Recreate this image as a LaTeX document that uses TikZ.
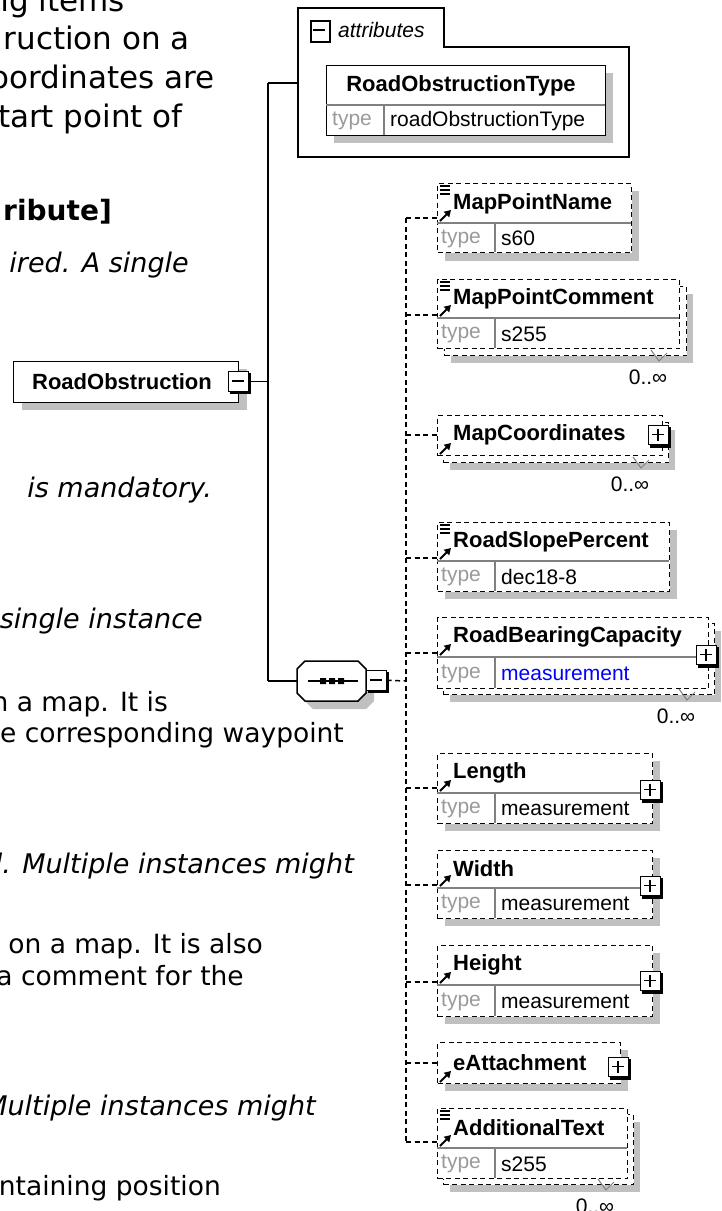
\documentclass[tikz,border=0pt]{standalone}
\usepackage{fontspec}
\usetikzlibrary{arrows.meta}
\newfontfamily\dfont{Liberation Sans}
\newfontfamily\bgfont[ItalicFont={DejaVu Sans Oblique},BoldFont={DejaVu Sans Bold}]{DejaVu Sans}
\definecolor{shgrey}{HTML}{C0C0C0}
\definecolor{tgrey}{HTML}{9A9A9A}
\definecolor{hgrey}{HTML}{808080}
\definecolor{mblue}{HTML}{0000FF}
\tikzset{
  solidln/.style={line width=1.5pt, black},
  dashln/.style={line width=1.5pt, black, dash pattern=on 5pt off 3.5pt},
  optbox/.style={draw, fill=white, line width=1.4pt, dash pattern=on 5pt off 3.5pt, inner sep=0pt, anchor=north west},
  reqbox/.style={draw, fill=white, line width=1.4pt, inner sep=0pt, anchor=north west},
  hdrline/.style={line width=1.2pt, hgrey},
  nm/.style={font=\dfont\bfseries\fontsize{22}{24}\selectfont, anchor=west, inner sep=0pt},
  tlab/.style={font=\dfont\fontsize{21}{23}\selectfont, text=tgrey, anchor=west, inner sep=0pt},
  tval/.style={font=\dfont\fontsize{21}{23}\selectfont, anchor=west, inner sep=0pt},
  occlab/.style={font=\dfont\fontsize{21}{23}\selectfont, inner sep=0pt},
  bgtop/.style={font=\bgfont\fontsize{31}{36}\selectfont, anchor=base east, inner sep=0pt},
  bgbold/.style={font=\bgfont\bfseries\fontsize{28}{32}\selectfont, anchor=base east, inner sep=0pt},
  bgit/.style={font=\bgfont\itshape\fontsize{27}{31}\selectfont, anchor=base east, inner sep=0pt},
  bgreg/.style={font=\bgfont\fontsize{26.5}{30}\selectfont, anchor=base east, inner sep=0pt},
}
% icons
\newcommand\plusic[3]{%
  \fill[black] (#2+2,#3+2) rectangle (#2+23,#3+23);
  \node[draw, line width=1.1pt, fill=white, inner sep=0pt, minimum width=19.5pt, minimum height=19pt, anchor=north west] (#1) at (#2,#3) {};
  \draw[line width=1.6pt] (#2+3.5,#3+9.5) -- (#2+16,#3+9.5) (#2+9.75,#3+3.5) -- (#2+9.75,#3+15.5);
}
\newcommand\minusic[3]{%
  \fill[black] (#2+2,#3+2) rectangle (#2+23,#3+23);
  \node[draw, line width=1.1pt, fill=white, inner sep=0pt, minimum width=19.5pt, minimum height=19.5pt, anchor=north west] (#1) at (#2,#3) {};
  \draw[line width=1.6pt] (#2+3.5,#3+9.75) -- (#2+16,#3+9.75);
}
\newcommand\lsticon[1]{\draw[line width=1.2pt] (440,#1+3) -- (450,#1+3) (440,#1+7) -- (450,#1+7) (440,#1+11) -- (450,#1+11);}
\newcommand\arricon[1]{\draw[line width=2pt, -{Triangle[length=6.5pt,width=7.5pt]}] (440,#1-2) -- (451,#1-13);}
\newcommand\typedrow[6]{%
  \draw[hdrline] (437,#3) -- (#2,#3);
  \draw[hdrline] (495,#3) -- (495,#4);
  \node[tlab] (#1-tl) at (441,{(#3+#4)/2+1}) {type};
  \node[tval, text=#6] (#1-tv) at (501,{(#3+#4)/2+1}) {#5};
}
\newcommand\occ[3]{%
  \draw[line width=1pt, hgrey] (#2-35,#3-5) -- (#2-27,#3+6) -- (#2-19,#3-2);
  \node[occlab] (#1) at (#2-38,#3+22) {0..∞};
}
\begin{document}
\begin{tikzpicture}[x=1pt,y=-1pt]
\useasboundingbox (0,0) rectangle (721,1211);
\clip (0,0) rectangle (721,1211);
\fill[white] (0,0) rectangle (721,1211);

% ---------- background text (cut off at the left)
\node[bgtop] (t1) at (125,11) {ng items};
\node[bgtop] (t2) at (190,49) {ruction on a};
\node[bgtop] (t3) at (215,88) {oordinates are};
\node[bgtop] (t4) at (183,127) {tart point of};
\node[bgbold] (t5) at (112,220) {ribute]};
\node[bgit] (t6) at (189,272) {ired. A single};
\node[bgit] (t7) at (212,497) {is mandatory.};
\node[bgit] (t8) at (203,628) {single instance};
\node[bgreg] (t9) at (168,711) {n a map. It is};
\node[bgreg] (t10) at (344,742) {e corresponding waypoint};
\node[bgit] (t11) at (354,873) {l. Multiple instances might};
\node[bgreg] (t12) at (263,953) {on a map. It is also};
\node[bgreg] (t13) at (244,985) {a comment for the};
\node[bgit] (t14) at (316,1115) {Multiple instances might};
\node[bgreg] (t15) at (221,1195) {ntaining position};

% ---------- RoadObstruction
\fill[shgrey] (22,369) rectangle (247,410);
\node[reqbox, minimum width=225pt, minimum height=41pt] (ro) at (13,361) {};
\node[nm, anchor=center] (ro-n) at (122,382) {RoadObstruction};
\minusic{ro-m}{228}{371}

% ---------- attributes
\draw[solidln, fill=white] (298,157) -- (298,8) -- (444,8) -- (444,47) -- (629,47) -- (629,157) -- cycle;
\node[draw, line width=2.6pt, fill=white, minimum width=19pt, minimum height=21pt, inner sep=0pt, anchor=north west] (attr-m) at (309.5,19.5) {};
\draw[line width=1.6pt] (313,30) -- (325,30);
\node[font=\dfont\itshape\fontsize{21}{23}\selectfont, anchor=west, inner sep=0pt] (attr-t) at (338,30) {attributes};
\coordinate (attr-in) at (298,83);
\fill[shgrey] (334,73) rectangle (613,143);
\node[reqbox, minimum width=279pt, minimum height=70pt] (rot) at (326,65) {};
\draw[hdrline] (326,105) -- (605,105);
\draw[hdrline] (384,105) -- (384,135);
\node[nm, anchor=center] (rot-n) at (461,86) {RoadObstructionType};
\node[tlab] (rot-tl) at (332,121) {type};
\node[tval] (rot-tv) at (390,121) {roadObstructionType};

% ---------- main connectors
\coordinate (jA) at (268,83);
\coordinate (jS) at (268,681);
\draw[solidln] (ro-m.east) -- (ro-m.east -| jA);
\draw[solidln] (jA) -- (jS);
\draw[solidln] (jA) -- (attr-in);

% ---------- sequence compositor
\fill[shgrey] (313,669) -- (366,669) -- (374,677) -- (374,701) -- (366,709) -- (313,709) -- (305,701) -- (305,677) -- cycle;
\draw[solidln, fill=white] (305,661) -- (358,661) -- (366,669) -- (366,693) -- (358,701) -- (305,701) -- (297,693) -- (297,669) -- cycle;
\node[inner sep=0pt, minimum width=69pt, minimum height=40pt] (seq) at (331.5,681) {};
\draw[line width=1.3pt] (308,681) -- (358,681);
\fill (320,678) rectangle (326,684) (329,678) rectangle (335,684) (338,678) rectangle (344,684);
\minusic{seq-m}{366}{670}
\draw[solidln] (jS) -- (seq.west);
\coordinate (bus-seq) at (406,681);
\coordinate (bus-top) at (406,218);
\coordinate (bus-bot) at (406,1142);
\draw[dashln] (seq-m.east) -- (bus-seq);
\draw[dashln] (bus-top) -- (bus-bot);

% ---------- MapPointName
\fill[shgrey] (445,191) rectangle (639,261);
\node[optbox, minimum width=194pt, minimum height=69pt] (mpn) at (437,183) {};
\typedrow{mpn}{631}{223}{252}{s60}{black}
\node[nm] (mpn-n) at (453,204) {MapPointName};
\lsticon{183}\arricon{223}
\draw[dashln] (bus-top) -- (bus-top -| mpn.west);

% ---------- MapPointComment
\fill[shgrey] (451,294) rectangle (693,363);
\node[optbox, minimum width=242pt, minimum height=69pt] (mpc-b) at (444,286) {};
\node[optbox, minimum width=242pt, minimum height=69pt] (mpc) at (437,279) {};
\typedrow{mpc}{679}{318}{348}{s255}{black}
\node[nm] (mpc-n) at (453,299) {MapPointComment};
\lsticon{279}\arricon{318}
\occ{mpc-o}{686}{355}
\coordinate (bus-mpc) at (406,315);
\draw[dashln] (bus-mpc) -- (bus-mpc -| mpc.west);

% ---------- MapCoordinates
\fill[shgrey] (450,430) rectangle (675,470);
\node[optbox, minimum width=225pt, minimum height=40pt] (mco-b) at (443,422) {};
\node[optbox, minimum width=225pt, minimum height=40pt] (mco) at (437,415) {};
\node[nm] (mco-n) at (453,435) {MapCoordinates};
\arricon{456}
\plusic{mco-p}{648}{425}
\occ{mco-o}{668}{462}
\coordinate (bus-mco) at (406,435);
\draw[dashln] (bus-mco) -- (bus-mco -| mco.west);

% ---------- RoadSlopePercent
\fill[shgrey] (445,530) rectangle (677,599);
\node[optbox, minimum width=232pt, minimum height=69pt] (rsp) at (437,522) {};
\typedrow{rsp}{669}{561}{591}{dec18-8}{black}
\node[nm] (rsp-n) at (453,542) {RoadSlopePercent};
\lsticon{522}\arricon{561}
\coordinate (bus-rsp) at (406,558);
\draw[dashln] (bus-rsp) -- (bus-rsp -| rsp.west);

% ---------- RoadBearingCapacity
\fill[shgrey] (450,631) rectangle (721,702);
\node[optbox, minimum width=271pt, minimum height=71pt] (rbc-b) at (443,623) {};
\node[optbox, minimum width=271pt, minimum height=71pt] (rbc) at (437,617) {};
\typedrow{rbc}{708}{657}{688}{measurement}{mblue}
\node[nm] (rbc-n) at (453,637) {RoadBearingCapacity};
\arricon{657}
\plusic{rbc-p}{696}{645}
\occ{rbc-o}{714}{694}
\coordinate (bus-rbc) at (406,653);
\draw[dashln] (bus-rbc) -- (bus-rbc -| rbc.west);

% ---------- Length
\fill[shgrey] (445,761) rectangle (660,831);
\node[optbox, minimum width=215pt, minimum height=70pt] (len) at (437,753) {};
\typedrow{len}{652}{793}{823}{measurement}{black}
\node[nm] (len-n) at (453,773) {Length};
\arricon{793}
\plusic{len-p}{640}{780}
\coordinate (bus-len) at (406,788);
\draw[dashln] (bus-len) -- (bus-len -| len.west);

% ---------- Width
\fill[shgrey] (445,858) rectangle (660,926);
\node[optbox, minimum width=215pt, minimum height=68pt] (wid) at (437,850) {};
\typedrow{wid}{652}{888}{918}{measurement}{black}
\node[nm] (wid-n) at (453,869) {Width};
\arricon{888}
\plusic{wid-p}{640}{876}
\coordinate (bus-wid) at (406,885);
\draw[dashln] (bus-wid) -- (bus-wid -| wid.west);

% ---------- Height
\fill[shgrey] (445,953) rectangle (660,1024);
\node[optbox, minimum width=215pt, minimum height=71pt] (hei) at (437,945) {};
\typedrow{hei}{652}{985}{1016}{measurement}{black}
\node[nm] (hei-n) at (453,965) {Height};
\arricon{985}
\plusic{hei-p}{640}{971}
\coordinate (bus-hei) at (406,982);
\draw[dashln] (bus-hei) -- (bus-hei -| hei.west);

% ---------- eAttachment
\fill[shgrey] (445,1050) rectangle (628,1091);
\node[optbox, minimum width=183pt, minimum height=41pt] (eat) at (437,1042) {};
\node[nm] (eat-n) at (453,1063) {eAttachment};
\arricon{1084}
\plusic{eat-p}{608}{1057}
\coordinate (bus-eat) at (406,1063);
\draw[dashln] (bus-eat) -- (bus-eat -| eat.west);

% ---------- AdditionalText
\fill[shgrey] (450,1122) rectangle (640,1192);
\node[optbox, minimum width=190pt, minimum height=70pt] (adt-b) at (443,1114) {};
\node[optbox, minimum width=190pt, minimum height=70pt] (adt) at (437,1108) {};
\typedrow{adt}{627}{1148}{1178}{s255}{black}
\node[nm] (adt-n) at (453,1128) {AdditionalText};
\lsticon{1108}\arricon{1148}
\occ{adt-o}{633}{1184}
\draw[dashln] (bus-bot) -- (bus-bot -| adt.west);
\end{tikzpicture}
\end{document}
